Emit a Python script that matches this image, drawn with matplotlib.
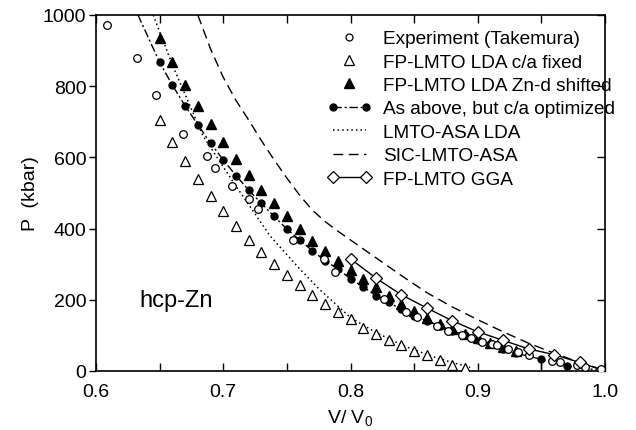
import matplotlib
matplotlib.use("Agg")
import matplotlib.pyplot as plt
from matplotlib.legend_handler import HandlerLine2D
from matplotlib.ticker import MultipleLocator, FormatStrFormatter

plt.rcParams['font.family'] = ['Liberation Sans', 'DejaVu Sans']
plt.rcParams['mathtext.default'] = 'regular'

# Experiment (Takemura) - open circles
exp_x = [0.609, 0.632, 0.647, 0.668, 0.687, 0.6935, 0.707, 0.720, 0.727, 0.7545,
         0.779, 0.788, 0.826, 0.844, 0.852, 0.868, 0.877, 0.888, 0.895, 0.903,
         0.911, 0.915, 0.924, 0.932, 0.940, 0.958, 0.965, 0.978, 0.984, 0.997]
exp_p = [973, 878, 775, 667, 605, 570, 520, 484, 455, 368,
         315, 277, 201, 165, 151, 127, 113, 100, 92, 82,
         76, 72, 62, 52, 45, 29, 24, 17, 10, 6]

# FP-LMTO LDA c/a fixed - open triangles
lda_x = [0.65, 0.66, 0.67, 0.68, 0.69, 0.70, 0.71, 0.72, 0.73, 0.74, 0.75, 0.76, 0.77,
         0.78, 0.79, 0.80, 0.81, 0.82, 0.83, 0.84, 0.85, 0.86, 0.87, 0.88, 0.89]
lda_p = [706, 644, 590, 539, 492, 449, 408, 369, 333, 300, 269, 241, 213,
         189, 165, 146, 122, 105, 88, 72, 57, 44, 30, 18, 8]

# FP-LMTO LDA Zn-d shifted - filled triangles
dsh_x = [0.65, 0.66, 0.67, 0.68, 0.69, 0.70, 0.71, 0.72, 0.73, 0.74, 0.75, 0.76, 0.77,
         0.78, 0.79, 0.80, 0.81, 0.82, 0.83, 0.84, 0.85, 0.86, 0.87, 0.88, 0.89,
         0.90, 0.91, 0.92, 0.93]
dsh_p = [934, 867, 803, 745, 693, 642, 596, 551, 508, 471, 434, 399, 366,
         337, 309, 283, 258, 235, 211, 188, 168, 148, 132, 118, 104,
         92, 80, 68, 55]

# As above, but c/a optimized - filled circles + dash-dot curve
opt_x = [0.65, 0.66, 0.67, 0.68, 0.69, 0.70, 0.71, 0.72, 0.73, 0.74, 0.75, 0.76, 0.77,
         0.78, 0.79, 0.80, 0.81, 0.82, 0.83, 0.84, 0.85, 0.86, 0.87, 0.88, 0.89,
         0.90, 0.91, 0.92, 0.93, 0.95, 0.97]
opt_p = [867, 803, 745, 692, 640, 593, 549, 508, 471, 434, 399, 368, 338,
         310, 287, 259, 236, 212, 193, 173, 155, 141, 127, 113, 101,
         88, 75, 62, 50, 33, 14]
opt_curve_x = [0.633] + opt_x + [1.0]
opt_curve_p = [1000] + opt_p + [0]

# LMTO-ASA LDA - dotted curve
asa_x = [0.645, 0.660, 0.684, 0.708, 0.7367, 0.760, 0.776, 0.800, 0.820, 0.8415, 0.865, 0.880, 0.894]
asa_p = [1000, 860, 661, 530, 380, 287, 228, 150, 108, 71, 40, 24, 10]

# SIC-LMTO-ASA - dashed curve
sic_x = [0.680, 0.69, 0.70, 0.71, 0.72, 0.73, 0.74, 0.75, 0.76, 0.77, 0.78, 0.79, 0.80,
         0.82, 0.84, 0.86, 0.88, 0.90, 0.92, 0.94, 0.96, 0.98, 1.0]
sic_p = [1000, 905, 825, 760, 705, 647, 593, 542, 494, 452, 420, 393, 368,
         318, 268, 220, 180, 144, 110, 78, 50, 24, 2]

# FP-LMTO GGA - open diamonds + solid line
gga_x = [0.80, 0.82, 0.84, 0.86, 0.88, 0.90, 0.92, 0.94, 0.96, 0.98]
gga_p = [315, 261, 214, 177, 141, 110, 86, 62, 46, 24]
gga_curve_x = gga_x + [1.0]
gga_curve_p = gga_p + [0]

fig = plt.figure(figsize=(6.36, 4.31), dpi=100)
ax = fig.add_axes([96/636, 1-372/431, (605-96)/636, (372-16)/431])

DASHDOT = (0, (6, 2, 1.5, 2))
DOTTED = (0, (1, 2))
DASHED = (0, (7, 4))

ax.plot(asa_x, asa_p, color='black', lw=1.1, linestyle=DOTTED, zorder=2)
ax.plot(sic_x, sic_p, color='black', lw=1.0, linestyle=DASHED, zorder=2)
ax.plot(opt_curve_x, opt_curve_p, color='black', lw=1.0, linestyle=DASHDOT, zorder=2)
ax.plot(gga_curve_x, gga_curve_p, color='black', lw=1.0, zorder=2)

ax.plot(exp_x, exp_p, 'o', ms=5.5, mfc='white', mec='black', mew=0.9, zorder=4)
ax.plot(lda_x, lda_p, '^', ms=7, mfc='white', mec='black', mew=0.9, zorder=4)
ax.plot(dsh_x, dsh_p, '^', ms=7, mfc='black', mec='black', zorder=3)
ax.plot(opt_x, opt_p, 'o', ms=5, mfc='black', mec='black', zorder=3)
ax.plot(gga_x, gga_p, 'D', ms=6, mfc='white', mec='black', mew=0.9, zorder=4)

# thin vertical line under the point at V/V0 = 0.95
i95 = opt_x.index(0.95)
ax.vlines(opt_x[i95], 0, opt_p[i95], color='black', lw=1.0, zorder=2)

# legend handles
h_exp, = ax.plot([], [], 'o', ms=5, mfc='white', mec='black', mew=0.9)
h_lda, = ax.plot([], [], '^', ms=6.5, mfc='white', mec='black', mew=0.9)
h_dsh, = ax.plot([], [], '^', ms=6.5, mfc='black', mec='black')
h_opt, = ax.plot([], [], marker='o', ms=5, mfc='black', mec='black', color='black', lw=1.0,
                 linestyle=DASHDOT)
h_asa, = ax.plot([], [], color='black', lw=1.1, linestyle=DOTTED)
h_sic, = ax.plot([], [], color='black', lw=1.0, linestyle=DASHED)
h_gga, = ax.plot([], [], marker='D', ms=6, mfc='white', mec='black', color='black', lw=1.0, mew=0.9)

labels = ['Experiment (Takemura)', 'FP-LMTO LDA c/a fixed', 'FP-LMTO LDA Zn-d shifted',
          'As above, but c/a optimized', 'LMTO-ASA LDA', 'SIC-LMTO-ASA', 'FP-LMTO GGA']
leg = ax.legend([h_exp, h_lda, h_dsh, h_opt, h_asa, h_sic, h_gga], labels,
                loc='upper left', bbox_to_anchor=(0.455, 0.958), frameon=False,
                fontsize=13.7, numpoints=2, handlelength=2.3, handletextpad=0.6,
                labelspacing=0.32, borderpad=0, borderaxespad=0,
                handler_map={h_exp: HandlerLine2D(numpoints=1),
                             h_lda: HandlerLine2D(numpoints=1),
                             h_dsh: HandlerLine2D(numpoints=1)})

ax.text(0.634, 200, 'hcp-Zn', fontsize=17, ha='left', va='center')

ax.set_xlim(0.6, 1.0)
ax.set_ylim(0, 1000)
ax.xaxis.set_major_locator(MultipleLocator(0.1))
ax.xaxis.set_minor_locator(MultipleLocator(0.05))
ax.yaxis.set_major_locator(MultipleLocator(200))
ax.xaxis.set_major_formatter(FormatStrFormatter('%.1f'))
ax.tick_params(axis='x', which='both', direction='in', top=True, length=6, width=1,
               labelsize=14, pad=9)
ax.tick_params(axis='y', which='both', direction='out', right=False, length=5, width=1,
               labelsize=14, pad=2)
sec = ax.secondary_yaxis('right')
sec.yaxis.set_major_locator(MultipleLocator(200))
sec.tick_params(axis='y', direction='in', length=6, width=1, labelright=False)
sec.spines['right'].set_visible(False)

for s in ax.spines.values():
    s.set_linewidth(1.2)

ax.set_xlabel('V/ V$_0$', fontsize=14, labelpad=5)
ax.set_ylabel('P  (kbar)', fontsize=14, labelpad=3)

fig.savefig('out.png', dpi=100)
